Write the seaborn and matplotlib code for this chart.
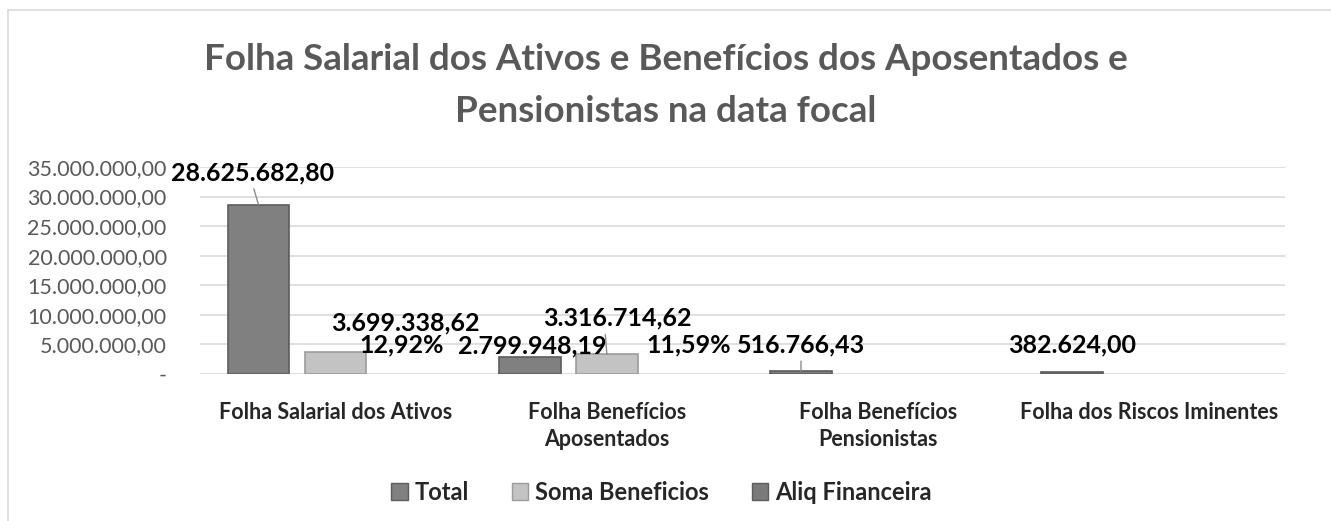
import matplotlib

matplotlib.use("Agg")
import matplotlib.pyplot as plt
import pandas as pd
import seaborn as sns
from matplotlib.patches import Patch, Rectangle
from matplotlib.ticker import FuncFormatter

sns.set_theme(style="white")
plt.rcParams["font.family"] = ["Lato", "DejaVu Sans"]

# Data
categorias = [
    "Folha Salarial dos Ativos",
    "Folha Benefícios\nAposentados",
    "Folha Benefícios\nPensionistas",
    "Folha dos Riscos Iminentes",
]
series = ["Total", "Soma Beneficios", "Aliq Financeira"]
total = [28625682.80, 2799948.19, 516766.43, 382624.00]
soma_beneficios = [3699338.62, 3316714.62]
aliq_financeira = [0.1292, 0.1159]

cores = {"Total": "#808080", "Soma Beneficios": "#c3c3c3", "Aliq Financeira": "#7a7a7a"}
bordas = {"Total": "#5c5c5c", "Soma Beneficios": "#9c9c9c", "Aliq Financeira": "#5c5c5c"}


def fmt_brl(v):
    s = f"{v:,.2f}"
    return s.replace(",", "X").replace(".", ",").replace("X", ".")


def fmt_pct(v):
    return f"{v * 100:.2f}%".replace(".", ",")


rows = []
for nome, valores in zip(series, [total, soma_beneficios, aliq_financeira]):
    for cat, v in zip(categorias, valores):
        rows.append({"categoria": cat, "serie": nome, "valor": v})
df = pd.DataFrame(rows)

fig = plt.figure(figsize=(13.31, 5.21), dpi=100)
ax = fig.add_axes([200 / 1331, 1 - 374 / 521, 1085 / 1331, 207 / 521])

sns.barplot(
    data=df, x="categoria", y="valor", hue="serie",
    order=categorias, hue_order=series, palette=cores,
    width=0.853, gap=0.2, ax=ax, legend=False, errorbar=None,
)

for container, nome in zip(ax.containers, series):
    for bar in container:
        bar.set_edgecolor(bordas[nome])
        # the percentage bars are too small to show on this scale
        bar.set_linewidth(0 if nome == "Aliq Financeira" else 1.2)

ax.set_ylim(0, 35_000_000)
ax.set_yticks(range(0, 35_000_001, 5_000_000))
ax.yaxis.set_major_formatter(FuncFormatter(lambda v, p: "-" if v == 0 else fmt_brl(v)))
ax.grid(axis="y", color="#d9d9d9", linewidth=1.2)
ax.set_axisbelow(True)
for s in ax.spines.values():
    s.set_visible(False)
ax.tick_params(axis="y", labelsize=15.5, labelcolor="#595959", length=0, pad=24)
ax.tick_params(axis="x", labelsize=15.5, length=0, pad=20)
for lbl in ax.get_xticklabels():
    lbl.set_fontweight("bold")
    lbl.set_linespacing(1.35)
ax.set_xlabel("")
ax.set_ylabel("")

# data labels, offsets in pixels from each bar top
offsets = {
    ("Total", 0): (-6, 32),
    ("Soma Beneficios", 0): (70, 29),
    ("Aliq Financeira", 0): (-11, 29),
    ("Total", 1): (3, 12),
    ("Soma Beneficios", 1): (10, 36),
    ("Aliq Financeira", 1): (5, 29),
    ("Total", 2): (0, 26),
    ("Total", 3): (0, 27),
}
leaders = {("Total", 0): (0.5, 0.0), ("Soma Beneficios", 1): (0.42, 0.0), ("Total", 2): (0.5, 0.0)}

for container, nome in zip(ax.containers, series):
    for bar in container:
        h = bar.get_height()
        if h != h:
            continue
        xc = bar.get_x() + bar.get_width() / 2
        idx = int(round(xc))
        if (nome, idx) not in offsets:
            continue
        texto = fmt_pct(h) if nome == "Aliq Financeira" else fmt_brl(h)
        arrow = None
        if (nome, idx) in leaders:
            arrow = dict(arrowstyle="-", color="#8c8c8c", lw=1,
                         relpos=leaders[(nome, idx)], shrinkA=1, shrinkB=0)
        ax.annotate(
            texto, xy=(xc, h), xytext=offsets[(nome, idx)], textcoords="offset pixels",
            ha="center", va="center", fontsize=18, fontweight="bold", color="black",
            arrowprops=arrow, annotation_clip=False,
        )

fig.text(0.5, 1 - 60 / 521, "Folha Salarial dos Ativos e Benefícios dos Aposentados e",
         ha="center", va="center", fontsize=26.5, fontweight="bold", color="#595959")
fig.text(0.5, 1 - 112 / 521, "Pensionistas na data focal",
         ha="center", va="center", fontsize=26.5, fontweight="bold", color="#595959")

handles = [Patch(facecolor=cores[s], edgecolor=bordas[s]) for s in series]
fig.legend(
    handles, series, loc="center", bbox_to_anchor=(0.497, 1 - 492 / 521), ncol=3,
    frameon=False, prop={"weight": "bold", "size": 17},
    handlelength=0.7, handleheight=0.7, handletextpad=0.3, columnspacing=1.8,
)

fig.patches.append(Rectangle((8 / 1331, -0.01), 1.0, 1 - 10 / 521 + 0.01,
                             transform=fig.transFigure, fill=False,
                             edgecolor="#d9d9d9", linewidth=1.2))

fig.savefig("out.png", dpi=100)
